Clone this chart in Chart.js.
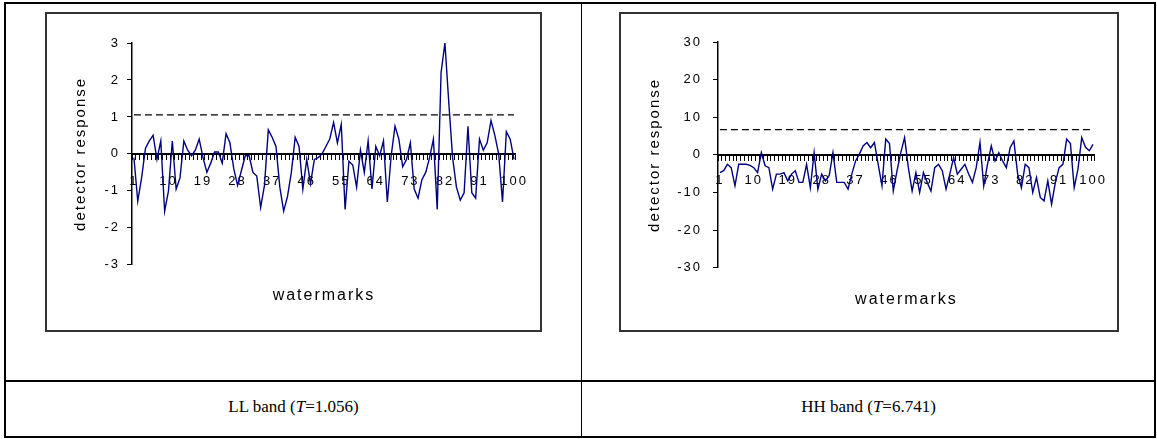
<!DOCTYPE html>
<html lang="en">
<head>
<meta charset="UTF-8">
<title>Detector response to watermarks</title>
<script src="https://cdn.jsdelivr.net/npm/chart.js"></script>
<style>
    body {
        margin: 0;
        background: #fff;
        width: 1157px;
        height: 439px;
        position: relative;
        overflow: hidden;
    }
    .outer { position: absolute; left: 4px; top: 2px; width: 1148px; height: 432px; border: 2px solid #000; }
    .line { position: absolute; background: #000; }
    .frame { position: absolute; border: 2px solid #333; background: #fff; }
    .frame canvas { display: block; }
    .caption {
        position: absolute;
        font-family: 'Liberation Serif', 'Times New Roman', serif;
        font-size: 17px;
        text-align: center;
        color: #000;
    }
</style>
</head>
<body>

<div class="outer"></div>
<div class="line" style="left:581px; top:2px; width:1px; height:435px;"></div>
<div class="line" style="left:4px; top:380px; width:1152px; height:2px;"></div>

<div class="frame" style="left:45px; top:12px; width:493px; height:316px;">
    <canvas id="llChart" width="493" height="316"></canvas>
</div>
<div class="frame" style="left:619px; top:12px; width:496px; height:316px;">
    <canvas id="hhChart" width="496" height="316"></canvas>
</div>

<div class="caption" style="left:6px; top:397px; width:575px;">LL band (<i>T</i>=1.056)</div>
<div class="caption" style="left:582px; top:397px; width:573px;">HH band (<i>T</i>=6.741)</div>

<script>
    // watermark index 1..100
    const watermarks = [];
    for (let i = 1; i <= 100; i++) watermarks.push(String(i));
    const tickLabels = ['1', '10', '19', '28', '37', '46', '55', '64', '73', '82', '91', '100'];

    const llResponse = [
        -0.1, -1.28, -0.65, 0.15, 0.35, 0.5, -0.15, 0.35, -1.55, -1.0,
        0.35, -0.95, -0.65, 0.35, 0.1, -0.05, 0.1, 0.4, -0.1, -0.5,
        -0.25, 0.05, 0.05, -0.25, 0.55, 0.3, -0.4, -0.85, -0.45, -0.05,
        -0.05, -0.5, -0.6, -1.45, -0.85, 0.65, 0.45, 0.2, -0.9, -1.55,
        -1.15, -0.5, 0.45, 0.2, -0.95, -0.15, -0.8, -0.15, -0.1, 0.0,
        0.2, 0.4, 0.85, 0.3, 0.8, -1.5, -0.2, -0.3, -0.9, 0.1,
        -0.5, 0.35, -0.95, 0.2, -0.05, 0.35, -1.3, -0.05, 0.75, 0.4,
        -0.35, -0.15, 0.3, -0.95, -1.2, -0.7, -0.5, -0.1, 0.4, -1.5,
        2.2, 3.0, 1.4, -0.1, -0.9, -1.25, -1.05, 0.75, -1.05, -1.2,
        0.4, 0.1, 0.3, 0.9, 0.5, 0.0, -1.3, 0.6, 0.4, -0.15
    ];
    const hhResponse = [
        -4.7, -4.2, -2.5, -3.4, -8.2, -2.5, -2.5, -2.5, -2.8, -3.4,
        -4.7, 0.6, -2.9, -3.4, -9.1, -5.1, -5.1, -4.7, -6.9, -5.1,
        -4.2, -7.3, -7.3, -2.5, -8.7, 0.6, -9.1, -5.1, -6.9, -5.5,
        0.6, -7.3, -7.3, -7.3, -9.1, -5.1, -1.6, 0.2, 2.4, 3.3,
        1.9, 3.3, -2.5, -8.2, 4.2, 3.0, -9.6, -4.2, 0.6, 4.6,
        -3.4, -9.6, -4.7, -10, -4.7, -7.3, -9.6, -3.4, -2.5, -4.2,
        -9.1, -5.1, -0.7, -5.1, -3.8, -2.5, -5.1, -7.3, -3.4, 3.3,
        -8.2, -2.5, 2.4, -1.6, 0.6, -1.6, -3.4, 1.9, 3.7, -5.1,
        -8.7, -2.5, -3.4, -10, -6, -11.3, -12.2, -6.9, -13.1, -7.3,
        -3.4, -2.5, 4.2, 3.0, -8.7, -3.8, 4.6, 2.0, 1.1, 2.8
    ];
    const llThreshold = 1.056;
    const hhThreshold = 6.741;

    // wider text, like the old spreadsheet rendering
    const spacing = {
        id: 'spacing',
        beforeDraw(chart) { chart.ctx.letterSpacing = '2px'; }
    };

    function makeChart(id, values, threshold, yMax, yStep, g) {
        const ctx = document.getElementById(id).getContext('2d');
        return new Chart(ctx, {
            type: 'line',
            data: {
                labels: watermarks,
                datasets: [{
                    data: values,
                    borderColor: '#000080',
                    borderWidth: 1.4,
                    pointRadius: 0,
                    tension: 0
                }, {
                    data: watermarks.map(() => threshold),
                    borderColor: '#000',
                    borderWidth: 1.2,
                    borderDash: [7, 4],
                    pointRadius: 0
                }]
            },
            options: {
                responsive: false,
                animation: false,
                devicePixelRatio: 1,
                layout: { padding: { top: g.top, right: g.right, left: 0, bottom: 0 } },
                plugins: {
                    legend: { display: false },
                    tooltip: { enabled: false },
                    title: {
                        display: true,
                        position: 'bottom',
                        fullSize: false,
                        text: 'watermarks',
                        color: '#000',
                        font: { family: "'Liberation Sans', Arial, sans-serif", size: 16, weight: 'normal' },
                        padding: { top: g.titleTop, bottom: g.titleBottom }
                    }
                },
                scales: {
                    x: {
                        type: 'category',
                        position: { y: 0 },
                        offset: true,
                        grid: { drawOnChartArea: false, offset: true, tickLength: 5, color: '#000', lineWidth: 1 },
                        border: { color: '#000', width: 2 },
                        ticks: {
                            autoSkip: false,
                            maxRotation: 0,
                            padding: g.labelPad,
                            color: '#000',
                            font: { family: "'Liberation Sans', Arial, sans-serif", size: 13 },
                            callback: function(value) {
                                const lbl = this.getLabelForValue(value);
                                return tickLabels.includes(lbl) ? lbl : '';
                            }
                        }
                    },
                    y: {
                        min: -yMax,
                        max: yMax,
                        afterFit: s => { s.width = g.axisX; },
                        grid: { drawOnChartArea: false, tickLength: 5, color: '#000' },
                        border: { color: '#000', width: 1.5 },
                        ticks: {
                            stepSize: yStep,
                            padding: g.tickPad,
                            color: '#000',
                            font: { family: "'Liberation Sans', Arial, sans-serif", size: 13 }
                        },
                        title: {
                            display: true,
                            text: 'detector response',
                            color: '#000',
                            font: { family: "'Liberation Sans', Arial, sans-serif", size: 15 },
                            padding: { top: g.titlePad, bottom: 0 }
                        }
                    }
                }
            },
            plugins: [spacing]
        });
    }

    makeChart('llChart', llResponse, llThreshold, 3, 1,
        { top: 29, right: 15, axisX: 85, tickPad: 7, titlePad: 25, labelPad: 15, titleTop: 21, titleBottom: 25 });
    makeChart('hhChart', hhResponse, hhThreshold, 30, 10,
        { top: 28, right: 11, axisX: 97, tickPad: 11, titlePad: 25, labelPad: 13, titleTop: 22, titleBottom: 21 });
</script>

</body>
</html>
